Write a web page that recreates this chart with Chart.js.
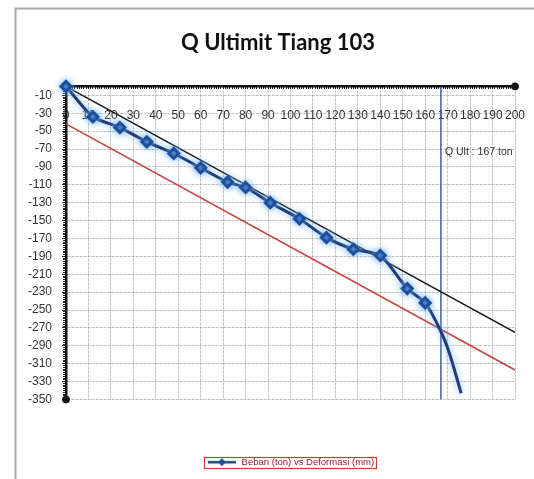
<!DOCTYPE html>
<html>
<head>
<meta charset="utf-8">
<script src="https://cdn.jsdelivr.net/npm/chart.js@4/dist/chart.umd.min.js"></script>
<style>
  html, body { margin: 0; padding: 0; background: #fff; }
  #wrap { width: 534px; height: 479px; }
</style>
</head>
<body>
<div id="wrap"><canvas id="chart" width="534" height="479"></canvas></div>
<script>
// Load test readings: applied load (ton) and pile head deformation (mm)
const loadTon  = [0, 12, 24, 36, 48, 60, 72, 80, 91, 104, 116, 128, 140, 152, 160, 167, 171, 176];
const deformMm = [0, -34, -46, -62, -75, -91, -107, -113, -130, -148, -169, -182, -189, -226, -242, -274, -300, -343];
const markerShown = [1, 1, 1, 1, 1, 1, 1, 1, 1, 1, 1, 1, 1, 1, 1, 0, 0, 0];

// Construction lines
const lineLoad   = [0, 200];
const upperLine  = [0, -275];
const lowerLine  = [-42, -317];
const qUltLoad   = 167;
const qUltSpan   = [0, -350];
const qUltLabel  = 'Q Ult : 167 ton';

// Axis end caps
const capLoad    = [200, 0];
const capDeform  = [0, -350];

// Axis settings
const xMin = 0, xMax = 200, xStep = 10;
const yMin = -350, yMax = 0;
const yTickValues = [-10, -30, -50, -70, -90, -110, -130, -150, -170, -190, -210, -230, -250, -270, -290, -310, -330, -350];

const seriesName = 'Beban (ton) vs Deformasi (mm)';
const chartTitle = 'Q Ultimit Tiang 103';

const NARROW = "'Liberation Sans Narrow', 'Liberation Sans', Arial, sans-serif";
const GRID = 'rgba(120,120,120,0.45)';

const pts = (xs, ys) => xs.map((x, i) => ({ x, y: ys[i] }));

function legendSymbol() {
  const c = document.createElement('canvas');
  c.width = 30; c.height = 10;
  const g = c.getContext('2d');
  g.strokeStyle = '#1f3d7a'; g.lineWidth = 2.5;
  g.beginPath(); g.moveTo(1, 5); g.lineTo(29, 5); g.stroke();
  g.fillStyle = '#1f4e9c';
  g.beginPath(); g.moveTo(15, 1); g.lineTo(19, 5); g.lineTo(15, 9); g.lineTo(11, 5); g.closePath(); g.fill();
  return c;
}
const symbol = legendSymbol();

// Outer frame of the chart object
const framePlugin = {
  id: 'frame',
  beforeDraw(chart) {
    const ctx = chart.ctx;
    ctx.save();
    ctx.fillStyle = '#fff';
    ctx.fillRect(0, 0, chart.width, chart.height);
    ctx.strokeStyle = '#a8a8a8';
    ctx.lineWidth = 2;
    ctx.strokeRect(15.5, 8.5, chart.width + 20, chart.height + 20);
    ctx.restore();
  }
};

// Soft halo around the measured curve
const glowPlugin = {
  id: 'glow',
  beforeDatasetDraw(chart, args) {
    if (args.index !== 0) return;
    const ctx = chart.ctx;
    ctx.save();
    ctx.shadowColor = 'rgba(110,180,240,0.95)';
    ctx.shadowBlur = 7;
  },
  afterDatasetDraw(chart, args) {
    if (args.index !== 0) return;
    chart.ctx.restore();
  }
};

// Q Ult annotation text and legend border
const notesPlugin = {
  id: 'notes',
  afterDatasetsDraw(chart) {
    const { ctx, scales } = chart;
    ctx.save();
    ctx.font = '10.5px ' + NARROW;
    ctx.fillStyle = '#333';
    ctx.textBaseline = 'middle';
    ctx.textAlign = 'left';
    ctx.fillText(qUltLabel, scales.x.getPixelForValue(qUltLoad) + 4, scales.y.getPixelForValue(-74));
    ctx.restore();
  },
  afterDraw(chart) {
    const lg = chart.legend;
    if (!lg || !lg.legendHitBoxes || !lg.legendHitBoxes.length) return;
    const b = lg.legendHitBoxes[0];
    const ctx = chart.ctx;
    ctx.save();
    ctx.strokeStyle = '#d23a3a';
    ctx.lineWidth = 1.2;
    ctx.strokeRect(Math.round(b.left) - 2.5, Math.round(b.top) - 0.5, Math.round(b.width) + 5, Math.round(b.height) + 1);
    ctx.restore();
  }
};

new Chart(document.getElementById('chart'), {
  type: 'scatter',
  data: {
    datasets: [
      {
        label: seriesName,
        data: pts(loadTon, deformMm),
        showLine: true,
        tension: 0.25,
        borderColor: '#1f3d7a',
        borderWidth: 3,
        backgroundColor: '#1f4e9c',
        pointStyle: 'rectRot',
        pointRadius: markerShown.map(m => m ? 5 : 0),
        pointBorderColor: '#1f4e9c',
        pointBackgroundColor: '#1f4e9c',
        clip: false,
        order: 0
      },
      {
        label: 'upper',
        data: pts(lineLoad, upperLine),
        showLine: true,
        borderColor: '#1a1a1a',
        borderWidth: 1.5,
        pointRadius: 0,
        order: 2
      },
      {
        label: 'lower',
        data: pts(lineLoad, lowerLine),
        showLine: true,
        borderColor: '#c8433f',
        borderWidth: 1.5,
        pointRadius: 0,
        order: 2
      },
      {
        label: 'qult',
        data: pts([qUltLoad, qUltLoad], qUltSpan),
        showLine: true,
        borderColor: '#3c5aa6',
        borderWidth: 1.5,
        pointRadius: 0,
        order: 2
      },
      {
        label: 'caps',
        data: pts(capLoad, capDeform),
        showLine: false,
        pointRadius: 3.5,
        pointBackgroundColor: '#111',
        pointBorderColor: '#111',
        clip: false,
        order: 1
      }
    ]
  },
  options: {
    responsive: false,
    animation: false,
    layout: { padding: { left: 17, right: -5, top: 10, bottom: 2 } },
    plugins: {
      title: {
        display: true,
        text: chartTitle,
        color: '#111',
        font: { family: "Lato, 'Liberation Sans', sans-serif", size: 22, weight: 'bold' },
        padding: { top: 20, bottom: 30 }
      },
      legend: {
        position: 'bottom',
        fullSize: false,
        labels: {
          usePointStyle: true,
          pointStyleWidth: 30,
          boxHeight: 10,
          padding: 3,
          color: '#7a1f28',
          font: { family: NARROW, size: 9.5 },
          filter: item => item.datasetIndex === 0,
          generateLabels(chart) {
            const items = Chart.defaults.plugins.legend.labels.generateLabels(chart);
            items.forEach(it => { it.pointStyle = symbol; });
            return items;
          }
        }
      },
      tooltip: { enabled: false }
    },
    scales: {
      x: {
        type: 'linear',
        min: xMin, max: xMax,
        position: { y: 0 },
        ticks: { stepSize: xStep, padding: 22, autoSkip: false, maxRotation: 0, color: '#333', font: { family: NARROW, size: 12 } },
        grid: { color: GRID, lineWidth: 1, drawTicks: false },
        border: { display: true, color: '#111', width: 2.5, dash: [3, 1] },
        afterFit(s) { s.paddingLeft = 0; s.paddingRight = 19; }
      },
      xMarks: {
        type: 'linear',
        min: xMin, max: xMax,
        position: { y: 0 },
        ticks: { stepSize: 1, display: false },
        grid: { drawOnChartArea: false, drawTicks: true, tickLength: 3, tickColor: '#222', lineWidth: 1 },
        border: { display: false }
      },
      xSpace: {
        type: 'linear',
        position: 'bottom',
        min: 0, max: 1,
        ticks: { display: false },
        grid: { display: false, drawTicks: false },
        border: { display: false },
        afterFit(s) { s.height = 55; }
      },
      y: {
        type: 'linear',
        min: yMin, max: yMax,
        position: 'left',
        afterBuildTicks(s) { s.ticks = yTickValues.map(v => ({ value: v })); },
        ticks: { padding: 10, autoSkip: false, color: '#333', font: { family: NARROW, size: 12 } },
        grid: { color: GRID, lineWidth: 1, drawTicks: true, tickLength: 4, tickColor: '#222' },
        border: { display: true, color: '#111', width: 2.5, dash: [3, 1] },
        afterFit(s) { s.width = 49; }
      },
      yMarks: {
        type: 'linear',
        min: yMin, max: yMax,
        position: { x: 0 },
        ticks: { stepSize: 2, display: false },
        grid: { drawOnChartArea: false, drawTicks: true, tickLength: 3, tickColor: '#222', lineWidth: 1 },
        border: { display: false }
      }
    }
  },
  plugins: [framePlugin, glowPlugin, notesPlugin]
});
</script>
</body>
</html>
